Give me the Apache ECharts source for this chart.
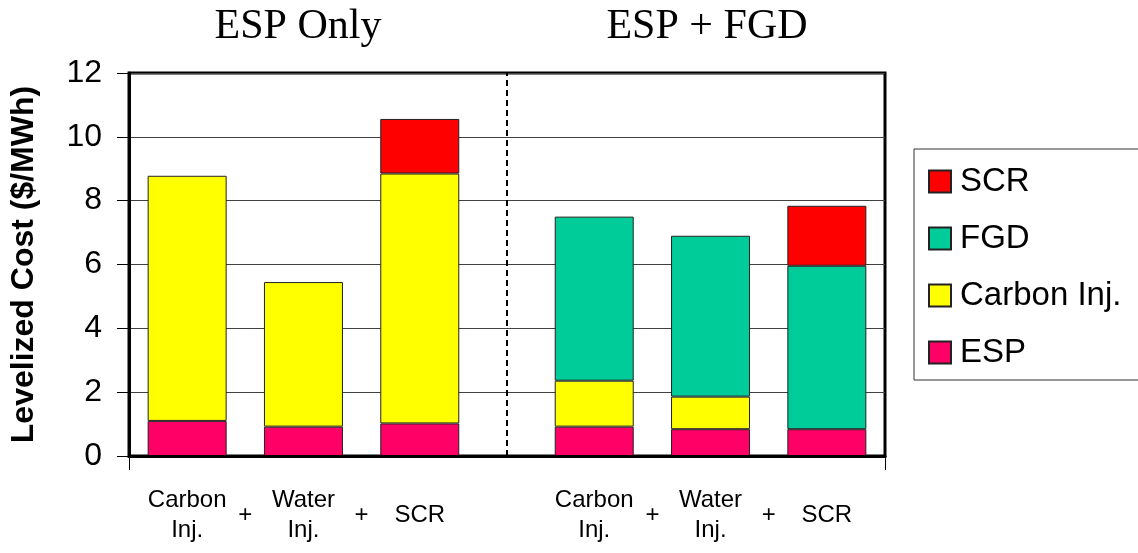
<!DOCTYPE html>
<html>
<head>
<meta charset="utf-8">
<script src="https://cdn.jsdelivr.net/npm/echarts@6/dist/echarts.min.js"></script>
<style>html,body{margin:0;padding:0;background:#fff}#c{width:1138px;height:553px}</style>
</head>
<body>
<div id="c"></div>
<script>
// Bar positions in "bar units" along the x axis (a gap of 1.5 units separates the two groups)
const barPositions = [0, 1, 2, 3.5, 4.5, 5.5];
const barLabels = ['Carbon\nInj.', 'Water\nInj.', 'SCR', 'Carbon\nInj.', 'Water\nInj.', 'SCR'];
const plusPositions = [0.5, 1.5, 4, 5];
const espValues = [1.10, 0.92, 1.02, 0.92, 0.84, 0.84];
const carbonValues = [7.68, 4.53, 7.83, 1.44, 1.02, 0];
const fgdValues = [0, 0, 0, 5.14, 5.04, 5.12];
const scrValues = [0, 0, 1.71, 0, 0, 1.88];
const groupTitles = ['ESP Only', 'ESP + FGD'];
const yTicks = [0, 2, 4, 6, 8, 10, 12];
const xStart = -0.5, xEnd = 6, xStep = 0.25, dividerAt = 2.75;

// quarter-unit slots of a category axis
const slots = [];
for (let i = 0; i <= Math.round((xEnd - xStart) / xStep); i++) slots.push(String(xStart + i * xStep));
const slotOf = p => Math.round((p - xStart) / xStep);

const chart = echarts.init(document.getElementById('c'));
const SANS = '"Liberation Sans", Arial, sans-serif';

function mk(vals) {
  const arr = slots.map(() => '-');
  vals.forEach((v, i) => {
    arr[slotOf(barPositions[i])] = { value: v, itemStyle: { borderWidth: v === 0 ? 0 : 1 } };
  });
  return arr;
}
function barSeries(name, vals, color, extra) {
  return Object.assign({
    name: name,
    type: 'bar',
    stack: 'total',
    barWidth: 79,
    data: mk(vals),
    itemStyle: { color: color, borderColor: '#222', borderWidth: 1 },
    emphasis: { disabled: true },
    silent: true
  }, extra || {});
}

const labelMap = {};
barPositions.forEach((p, i) => {
  const t = barLabels[i];
  labelMap[slotOf(p)] = t.indexOf('\n') >= 0 ? t.split('\n').map(s => '{a|' + s + '}').join('\n') : '{b|' + t + '}';
});
plusPositions.forEach(p => { labelMap[slotOf(p)] = '{b|+}'; });

chart.setOption({
  animation: false,
  backgroundColor: '#fff',
  graphic: [
    { type: 'text', x: 298, y: 27, style: { text: groupTitles[0], fontFamily: '"Liberation Serif", "Times New Roman", serif', fontSize: 42, fill: '#000', textAlign: 'center', textVerticalAlign: 'middle' } },
    { type: 'text', x: 707, y: 27, style: { text: groupTitles[1], fontFamily: '"Liberation Serif", "Times New Roman", serif', fontSize: 42, fill: '#000', textAlign: 'center', textVerticalAlign: 'middle' } }
  ],
  grid: { left: 127, right: 253, top: 73, bottom: 97, show: true, borderColor: '#000', borderWidth: 3, backgroundColor: 'transparent' },
  legend: {
    orient: 'vertical',
    left: 914,
    top: 149,
    data: ['SCR', 'FGD', 'Carbon Inj.', 'ESP'],
    itemWidth: 22,
    itemHeight: 22,
    itemGap: 24,
    icon: 'rect',
    padding: [16, 200, 11, 14],
    borderColor: '#333',
    borderWidth: 1,
    textStyle: { fontFamily: SANS, fontSize: 33, lineHeight: 33, color: '#000', padding: [0, 0, 0, 4] },
    selectedMode: false
  },
  xAxis: {
    type: 'category',
    data: slots,
    boundaryGap: false,
    z: 3,
    axisLine: { show: true, onZero: false, lineStyle: { color: '#000', width: 3 } },
    axisTick: { show: true, interval: (i) => i === 0 || i === slots.length - 1, length: 14, lineStyle: { color: '#000', width: 1 } },
    splitLine: { show: false },
    axisLabel: {
      interval: (i) => labelMap[i] !== undefined,
      margin: 29,
      formatter: (v, i) => labelMap[i] || '',
      rich: {
        a: { fontFamily: SANS, fontSize: 24, lineHeight: 30, color: '#000', align: 'center' },
        b: { fontFamily: SANS, fontSize: 24, lineHeight: 60, color: '#000', align: 'center' }
      }
    }
  },
  yAxis: {
    type: 'value',
    min: yTicks[0],
    max: yTicks[yTicks.length - 1],
    interval: 2,
    name: 'Levelized Cost ($/MWh)',
    nameLocation: 'middle',
    nameRotate: 90,
    nameGap: 89,
    nameTextStyle: { fontFamily: SANS, fontSize: 32, fontWeight: 'bold', color: '#000' },
    axisLine: { show: true, lineStyle: { color: '#000', width: 3 } },
    axisTick: { show: true, length: 12, lineStyle: { color: '#000', width: 1 } },
    axisLabel: { fontFamily: SANS, fontSize: 32, color: '#000', margin: 27 },
    splitLine: { show: true, lineStyle: { color: '#404040', width: 1 } }
  },
  series: [
    barSeries('ESP', espValues, '#FF0066', {
      markLine: {
        silent: true,
        symbol: 'none',
        label: { show: false },
        lineStyle: { type: [6, 4], color: '#000', width: 2 },
        data: [{ xAxis: slotOf(dividerAt) }]
      }
    }),
    barSeries('Carbon Inj.', carbonValues, '#FFFF00'),
    barSeries('FGD', fgdValues, '#00CC99'),
    barSeries('SCR', scrValues, '#FF0000')
  ]
});
</script>
</body>
</html>
